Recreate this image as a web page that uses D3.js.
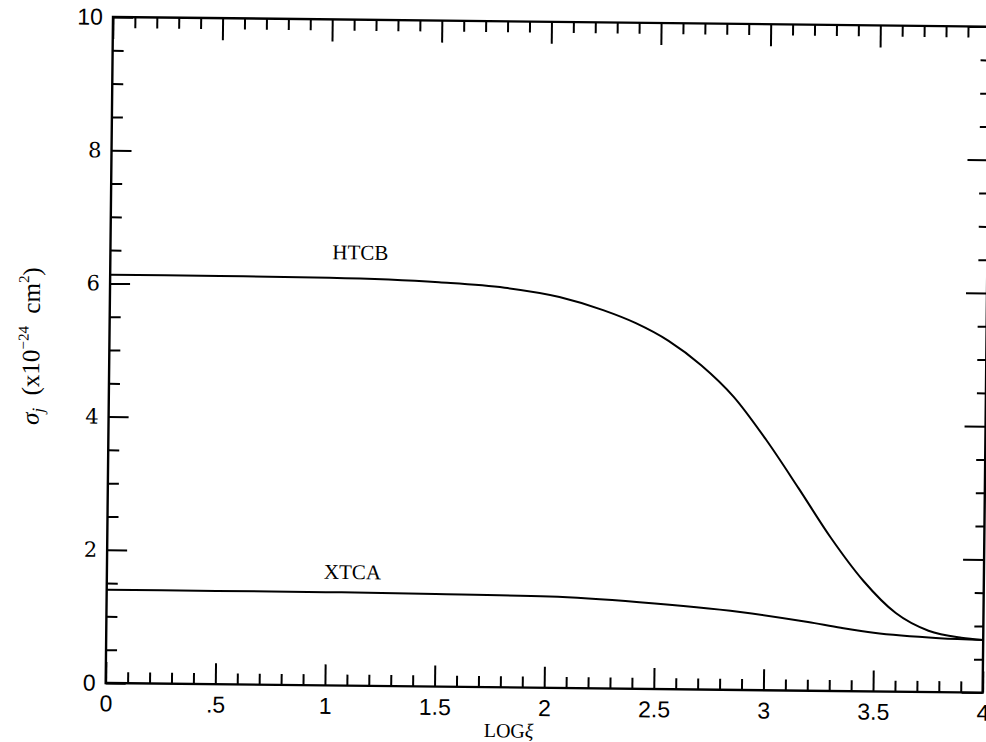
<!DOCTYPE html>
<html>
<head>
<meta charset="utf-8">
<script src="https://cdn.jsdelivr.net/npm/d3@7"></script>
<style>
  body { margin: 0; background: #fff; }
  svg { display: block; }
  .tick line { stroke: #000; stroke-width: 2; }
  .domain { display: none; }
</style>
</head>
<body>
<svg id="chart" width="986" height="742"></svg>
<script>
// values
var logXi = [0, 0.5, 1, 1.5, 1.8, 2.05, 2.25, 2.4, 2.55, 2.7, 2.85, 3.0, 3.15, 3.3, 3.45, 3.6, 3.75, 3.9, 4];
var htcb  = [6.13, 6.13, 6.12, 6.07, 6.0, 5.87, 5.68, 5.49, 5.23, 4.87, 4.40, 3.76, 3.04, 2.30, 1.66, 1.18, 0.92, 0.82, 0.79];

var logXiA = [0, 0.5, 1, 1.5, 2.02, 2.43, 2.89, 3.2, 3.35, 3.5, 3.8, 4];
var xtca   = [1.40, 1.40, 1.40, 1.39, 1.37, 1.30, 1.17, 1.03, 0.95, 0.88, 0.81, 0.79];

var xTickLabels = ["0", ".5", "1", "1.5", "2", "2.5", "3", "3.5", "4"];
var yTickLabels = ["0", "2", "4", "6", "8", "10"];

var margin = {left: 113, top: 17},
    width = 877, height = 666;

var svg = d3.select("#chart");

// the scan is tilted a little, so the whole plot is turned with it
var g = svg.append("g")
    .attr("transform", "translate(" + margin.left + "," + margin.top + ") rotate(0.63)");

var x = d3.scaleLinear().domain([0, 4]).range([0, width]);
var y = d3.scaleLinear().domain([0, 10]).range([height, 0]);

var xMajor = xTickLabels.map(function(d, i) { return i * 0.5; });
var xMinor = d3.range(0, 41).map(function(i) { return i / 10; }).filter(function(v) { return Math.round(v * 10) % 5 != 0; });
var yMajor = yTickLabels.map(function(d) { return +d; });
var yMinor = d3.range(1, 20).map(function(i) { return i / 2; }).filter(function(v) { return v % 2 != 0; });

var sans = "'Liberation Sans', Arial, sans-serif";
var serif = "'Liberation Serif', 'Times New Roman', serif";

// bottom axis
g.append("g").attr("transform", "translate(0," + height + ")")
    .call(d3.axisBottom(x).tickValues(xMinor).tickSize(-11).tickFormat(""));
var bx = g.append("g").attr("transform", "translate(0," + height + ")")
    .call(d3.axisBottom(x).tickValues(xMajor).tickSize(-21).tickPadding(12)
        .tickFormat(function(d, i) { return xTickLabels[i]; }));
bx.attr("font-family", sans).attr("font-size", 23);
bx.selectAll("text").attr("fill", "#000");

// top axis
g.append("g")
    .call(d3.axisTop(x).tickValues(xMinor).tickSize(-11).tickFormat(""));
g.append("g")
    .call(d3.axisTop(x).tickValues(xMajor).tickSize(-22).tickFormat(""));

// left axis
g.append("g")
    .call(d3.axisLeft(y).tickValues(yMinor).tickSize(-11).tickFormat(""));
var ly = g.append("g")
    .call(d3.axisLeft(y).tickValues(yMajor).tickSize(-20).tickPadding(10)
        .tickFormat(function(d, i) { return yTickLabels[i]; }));
ly.attr("font-size", 22);
ly.selectAll("text")
    .attr("font-family", function(d) {
      return (d == 0 || d == 10) ? sans : "'DejaVu Serif', 'Liberation Serif', serif";
    })
    .attr("font-size", function(d) { return (d == 0 || d == 10) ? 23 : 21; })
    .attr("fill", "#000");

// right axis
g.append("g").attr("transform", "translate(" + width + ",0)")
    .call(d3.axisRight(y).tickValues(yMinor).tickSize(-9).tickFormat(""));
g.append("g").attr("transform", "translate(" + width + ",0)")
    .call(d3.axisRight(y).tickValues(yMajor).tickSize(-21).tickFormat(""));

// frame
g.append("rect")
    .attr("width", width).attr("height", height)
    .attr("fill", "none").attr("stroke", "#000").attr("stroke-width", 2.4);

var line = d3.line().curve(d3.curveMonotoneX);

g.append("path")
    .attr("d", line(logXi.map(function(d, i) { return [x(d), y(htcb[i])]; })))
    .attr("fill", "none").attr("stroke", "#000").attr("stroke-width", 2);

g.append("path")
    .attr("d", line(logXiA.map(function(d, i) { return [x(d), y(xtca[i])]; })))
    .attr("fill", "none").attr("stroke", "#000").attr("stroke-width", 2);

// curve labels
g.append("text").attr("x", x(1.14)).attr("y", y(6.4))
    .attr("text-anchor", "middle").attr("font-family", serif).attr("font-size", 21)
    .text("HTCB");
g.append("text").attr("x", x(1.12)).attr("y", y(1.6))
    .attr("text-anchor", "middle").attr("font-family", serif).attr("font-size", 21)
    .text("XTCA");

// axis titles
var xt = g.append("text").attr("x", x(1.84)).attr("y", height + 50)
    .attr("text-anchor", "middle").attr("font-family", serif).attr("font-size", 20);
xt.append("tspan").text("LOG");
xt.append("tspan").attr("font-style", "italic").text("ξ");

var yt = g.append("text")
    .attr("transform", "translate(-70," + (height / 2 - 3) + ") rotate(-90)")
    .attr("text-anchor", "middle").attr("font-family", serif).attr("font-size", 25);
yt.append("tspan").attr("font-style", "italic").text("σ");
yt.append("tspan").attr("font-style", "italic").attr("font-size", 17).attr("dy", 5).text("j");
yt.append("tspan").attr("dy", -5).text("\u00a0\u00a0(x10");
yt.append("tspan").attr("font-size", 15).attr("dy", -11).text("−24");
yt.append("tspan").attr("dy", 11).text("\u00a0\u00a0cm");
yt.append("tspan").attr("font-size", 15).attr("dy", -11).text("2");
yt.append("tspan").attr("dy", 11).text(")");
</script>
</body>
</html>
